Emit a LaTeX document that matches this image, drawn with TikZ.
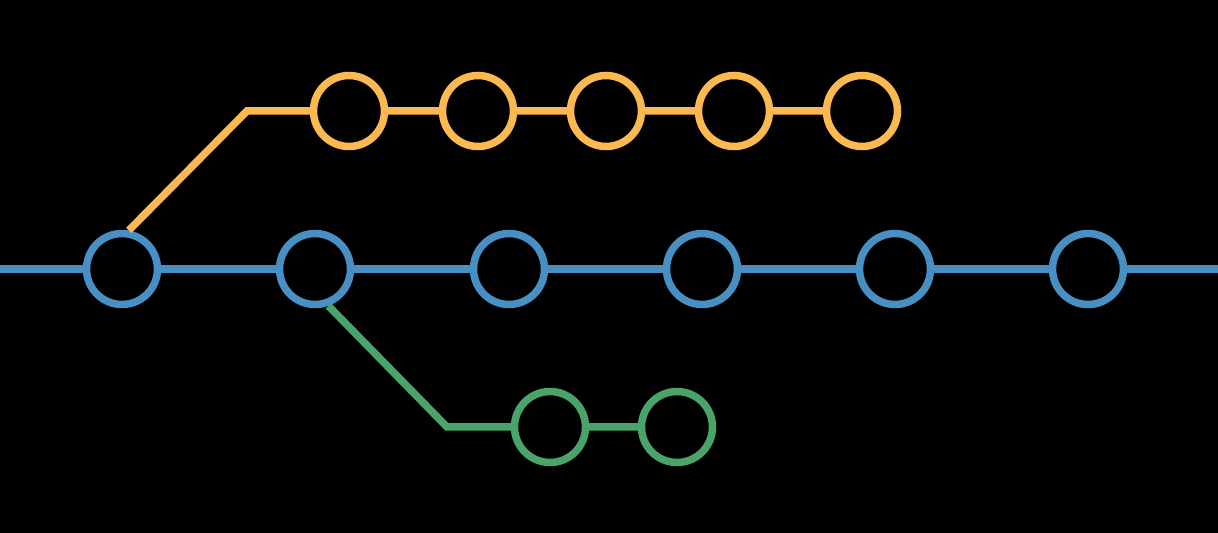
\documentclass[tikz,border=0pt]{standalone}
\usepackage{tikz}
\definecolor{branchblue}{RGB}{72,143,196}
\definecolor{branchyellow}{RGB}{252,185,80}
\definecolor{branchgreen}{RGB}{74,164,106}

\begin{document}
\begin{tikzpicture}[x=0.02cm, y=-0.02cm,
		commit/.style={circle, fill=black, line width=0.15cm, minimum size=1.42cm, inner sep=0pt},
		branch/.style={line width=0.15cm}]
			%%%%% START %%%%%
			
			\useasboundingbox (0, 0) rectangle (1218, 533);
			\fill[black] (-10, -10) rectangle (1228, 543);
			
			% main line
			\coordinate (bl) at (-10, 269);
			\coordinate (br) at (1228, 269);
			\node[commit, draw=branchblue] (b1) at (122, 269) {};
			\node[commit, draw=branchblue] (b2) at (315, 269) {};
			\node[commit, draw=branchblue] (b3) at (509, 269) {};
			\node[commit, draw=branchblue] (b4) at (702, 269) {};
			\node[commit, draw=branchblue] (b5) at (895, 269) {};
			\node[commit, draw=branchblue] (b6) at (1088, 269) {};
			\draw[branch, color=branchblue] (bl) -- (b1) -- (b2) -- (b3) -- (b4) -- (b5) -- (b6) -- (br);
			
			% upper branch
			\coordinate (yc) at (247, 111);
			\node[commit, draw=branchyellow] (y1) at (349, 111) {};
			\node[commit, draw=branchyellow] (y2) at (478, 111) {};
			\node[commit, draw=branchyellow] (y3) at (606, 111) {};
			\node[commit, draw=branchyellow] (y4) at (734, 111) {};
			\node[commit, draw=branchyellow] (y5) at (862, 111) {};
			\draw[branch, color=branchyellow] (b1.80) -- (yc) -- (y1) -- (y2) -- (y3) -- (y4) -- (y5);
			
			% lower branch
			\coordinate (gc) at (447, 427);
			\node[commit, draw=branchgreen] (g1) at (550, 427) {};
			\node[commit, draw=branchgreen] (g2) at (677, 427) {};
			\draw[branch, color=branchgreen] (b2.-70) -- (gc) -- (g1) -- (g2);
			
			%%%%% END %%%%%
		\end{tikzpicture}
\end{document}
